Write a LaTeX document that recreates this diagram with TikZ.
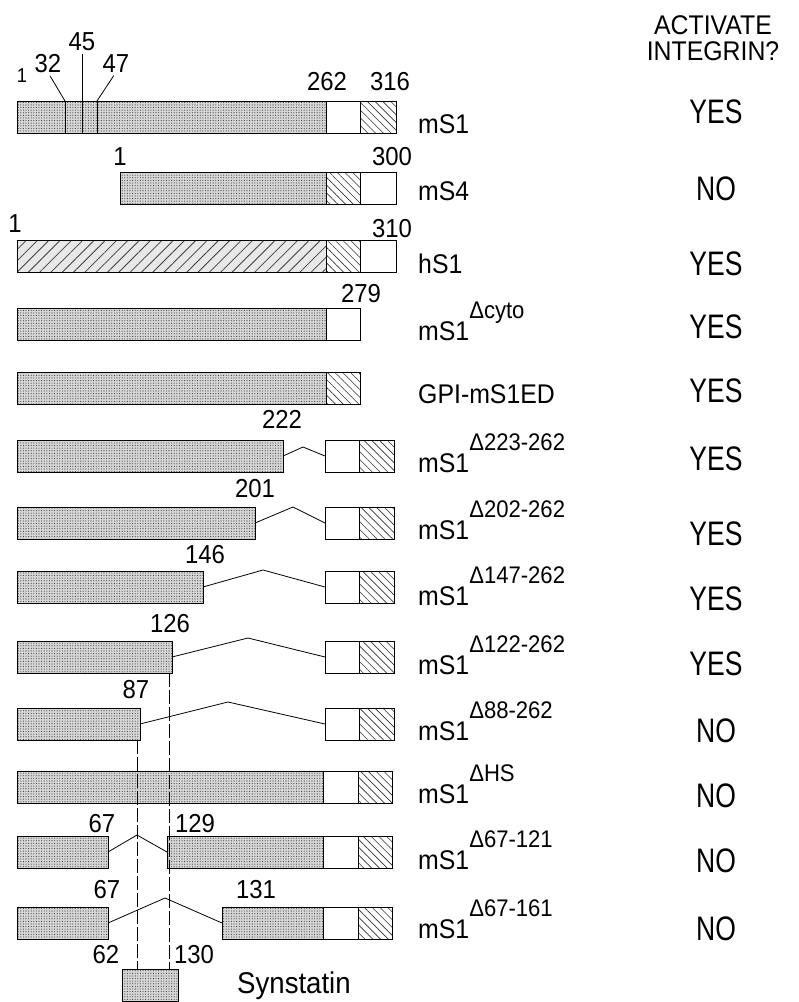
\documentclass[tikz,border=0pt]{standalone}
\usepackage{fontspec}
\setmainfont{Liberation Sans}
\newfontfamily\labf{Liberation Sans}[FakeStretch=0.92]
\newfontfamily\ynf{Liberation Sans}[FakeStretch=0.78]
\newfontfamily\numf{Liberation Sans}[FakeStretch=0.92]
\usetikzlibrary{patterns.meta}
\newcommand\supx[1]{\raisebox{22pt}{\fontsize{24}{26}\selectfont #1}}
\tikzset{
  seg/.style={draw=black, line width=0.9pt, inner sep=0pt, outer sep=0pt,
              minimum height=32pt, anchor=north west},
  stip/.style={seg, preaction={fill=gray!32},
               pattern={Dots[distance=2.6pt,radius=0.55pt]}, pattern color=gray!45!black},
  stripe/.style={seg, preaction={fill=gray!18},
               pattern={Lines[angle=45,distance=8pt,line width=0.8pt]}, pattern color=black!75},
  hatch/.style={seg, preaction={fill=white},
               pattern={Lines[angle=-45,distance=5.5pt,line width=0.6pt]}, pattern color=black!80},
  wbox/.style={seg, fill=white},
  zig/.style={line width=0.8pt},
  vl/.style={line width=0.8pt, dash pattern=on 14pt off 3pt},
  lab/.style={anchor=base west, inner sep=0pt, font=\labf\fontsize{27}{30}\selectfont},
  yn/.style={anchor=base, inner sep=0pt, font=\ynf\fontsize{34}{36}\selectfont},
  num/.style={anchor=base, inner sep=0pt, font=\numf\fontsize{26}{28}\selectfont},
  hd/.style={anchor=base, inner sep=0pt, font=\labf\fontsize{27}{29}\selectfont},
}
\begin{document}
\begin{tikzpicture}[x=1pt,y=-1pt]
\useasboundingbox (0,0) rectangle (799,1002);

% header
\node[hd] (hd1) at (713,34) {ACTIVATE};
\node[hd] (hd2) at (713,60) {INTEGRIN?};

% ---- Row 1 mS1
\node[stip, minimum width=309pt] (a1) at (17,101) {};
\node[wbox, minimum width=34pt] (b1) at (326,101) {};
\node[hatch, minimum width=36pt] (c1) at (360,101) {};
\coordinate (d32) at (65,101);
\coordinate (d45) at (82,101);
\coordinate (d47) at (97,101);
\draw[line width=0.9pt] (d32) -- ++(0,32) (d45) -- ++(0,32) (d47) -- ++(0,32);
\node[num, font=\numf\fontsize{20}{22}\selectfont] (n1a) at (22,82) {1};
\node[num] (n32) at (48,72) {32};
\node[num] (n45) at (82,50) {45};
\node[num] (n47) at (116,72) {47};
\node[num] (n262) at (327,90) {262};
\node[num] (n316) at (390,90) {316};
\draw[line width=0.8pt, shorten <=4pt] (n32.south) -- (d32);
\draw[line width=0.8pt, shorten <=4pt] (n45.south) -- (d45);
\draw[line width=0.8pt, shorten <=4pt] (n47.south) -- (d47);
\node[lab] (l1) at (418,133) {mS1};
\node[yn] (y1) at (716,123) {YES};

% ---- Row 2 mS4
\node[stip, minimum width=206pt] (a2) at (120,172) {};
\node[hatch, minimum width=34pt] (b2) at (326,172) {};
\node[wbox, minimum width=36pt] (c2) at (360,172) {};
\node[num] (n1b) at (120,165) {1};
\node[num] (n300) at (392,165) {300};
\node[lab] (l2) at (418,200) {mS4};
\node[yn] (y2) at (716,200) {NO};

% ---- Row 3 hS1
\node[stripe, minimum width=309pt] (a3) at (17,240) {};
\node[hatch, minimum width=34pt] (b3) at (326,240) {};
\node[wbox, minimum width=36pt] (c3) at (360,240) {};
\node[num] (n1c) at (15,232) {1};
\node[num] (n310) at (392,237) {310};
\node[lab] (l3) at (418,273) {hS1};
\node[yn] (y3) at (716,275) {YES};

% ---- Row 4 mS1 delta cyto
\node[stip, minimum width=309pt] (a4) at (17,308) {};
\node[wbox, minimum width=34pt] (b4) at (326,308) {};
\node[num] (n279) at (361,302) {279};
\node[lab] (l4) at (418,340) {mS1\supx{Δcyto}};
\node[yn] (y4) at (716,338) {YES};

% ---- Row 5 GPI-mS1ED
\node[stip, minimum width=309pt] (a5) at (17,372) {};
\node[hatch, minimum width=34pt] (b5) at (326,372) {};
\node[lab] (l5) at (418,403) {GPI-mS1ED};
\node[yn] (y5) at (716,402) {YES};

% ---- Row 6 delta 223-262
\node[stip, minimum width=266pt] (a6) at (17,440) {};
\node[wbox, minimum width=34pt] (b6) at (325,440) {};
\node[hatch, minimum width=35pt] (c6) at (359,440) {};
\coordinate (p6) at (303,447);
\draw[zig] (a6.east) -- (p6) -- (b6.west);
\node[num] (n222) at (282,428) {222};
\node[lab] (l6) at (418,472) {mS1\supx{Δ223-262}};
\node[yn] (y6) at (716,470) {YES};

% ---- Row 7 delta 202-262
\node[stip, minimum width=238pt] (a7) at (17,507) {};
\node[wbox, minimum width=34pt] (b7) at (325,507) {};
\node[hatch, minimum width=35pt] (c7) at (359,507) {};
\coordinate (p7) at (293,507);
\draw[zig] (a7.east) -- (p7) -- (b7.west);
\node[num] (n201) at (255,497) {201};
\node[lab] (l7) at (418,539) {mS1\supx{Δ202-262}};
\node[yn] (y7) at (716,545) {YES};

% ---- Row 8 delta 147-262
\node[stip, minimum width=186pt] (a8) at (17,571) {};
\node[wbox, minimum width=34pt] (b8) at (325,571) {};
\node[hatch, minimum width=35pt] (c8) at (359,571) {};
\coordinate (p8) at (263,570);
\draw[zig] (a8.east) -- (p8) -- (b8.west);
\node[num] (n146) at (205,563) {146};
\node[lab] (l8) at (418,605) {mS1\supx{Δ147-262}};
\node[yn] (y8) at (716,610) {YES};

% ---- Row 9 delta 122-262
\node[stip, minimum width=155pt] (a9) at (17,641) {};
\node[wbox, minimum width=34pt] (b9) at (325,641) {};
\node[hatch, minimum width=35pt] (c9) at (359,641) {};
\coordinate (p9) at (248,638);
\draw[zig] (a9.east) -- (p9) -- (b9.west);
\node[num] (n126) at (170,632) {126};
\node[lab] (l9) at (418,674) {mS1\supx{Δ122-262}};
\node[yn] (y9) at (716,675) {YES};

% ---- Row 10 delta 88-262
\node[stip, minimum width=123pt] (a10) at (17,708) {};
\node[wbox, minimum width=34pt] (b10) at (325,708) {};
\node[hatch, minimum width=35pt] (c10) at (359,708) {};
\coordinate (p10) at (228,702);
\draw[zig] (a10.east) -- (p10) -- (b10.west);
\node[num] (n87) at (136,698) {87};
\node[lab] (l10) at (418,740) {mS1\supx{Δ88-262}};
\node[yn] (y10) at (716,742) {NO};

% ---- Row 11 delta HS
\node[stip, minimum width=306pt] (a11) at (17,771) {};
\node[wbox, minimum width=35pt] (b11) at (323,771) {};
\node[hatch, minimum width=34pt] (c11) at (358,771) {};
\node[lab] (l11) at (418,803) {mS1\supx{ΔHS}};
\node[yn] (y11) at (716,807) {NO};

% ---- Row 12 delta 67-121
\node[stip, minimum width=91pt] (a12) at (17,836) {};
\node[stip, minimum width=156pt] (d12) at (167,836) {};
\node[wbox, minimum width=35pt] (b12) at (323,836) {};
\node[hatch, minimum width=34pt] (c12) at (358,836) {};
\coordinate (p12) at (137,835);
\draw[zig] (a12.east) -- (p12) -- (d12.west);
\node[num] (n67a) at (102,832) {67};
\node[num] (n129) at (195,832) {129};
\node[lab] (l12) at (418,869) {mS1\supx{Δ67-121}};
\node[yn] (y12) at (716,872) {NO};

% ---- Row 13 delta 67-161
\node[stip, minimum width=91pt] (a13) at (17,907) {};
\node[stip, minimum width=101pt] (d13) at (222,907) {};
\node[wbox, minimum width=35pt] (b13) at (323,907) {};
\node[hatch, minimum width=34pt] (c13) at (358,907) {};
\coordinate (p13) at (165,898);
\draw[zig] (a13.east) -- (p13) -- (d13.west);
\node[num] (n67b) at (107,898) {67};
\node[num] (n131) at (256,898) {131};
\node[lab] (l13) at (418,938) {mS1\supx{Δ67-161}};
\node[yn] (y13) at (716,940) {NO};

% ---- Synstatin
\node[stip, minimum width=56pt] (syn) at (122,969) {};
\node[lab, font=\labf\fontsize{30}{32}\selectfont] (lsyn) at (237,993) {Synstatin};
\node[num] (n62) at (106,963) {62};
\node[num] (n130) at (194,963) {130};

% vertical guide lines
\coordinate (va) at (137,740);
\coordinate (vb) at (169,673);
\draw[vl] (va) -- (va |- syn.north);
\draw[vl] (vb) -- (vb |- syn.north);
\end{tikzpicture}
\end{document}
